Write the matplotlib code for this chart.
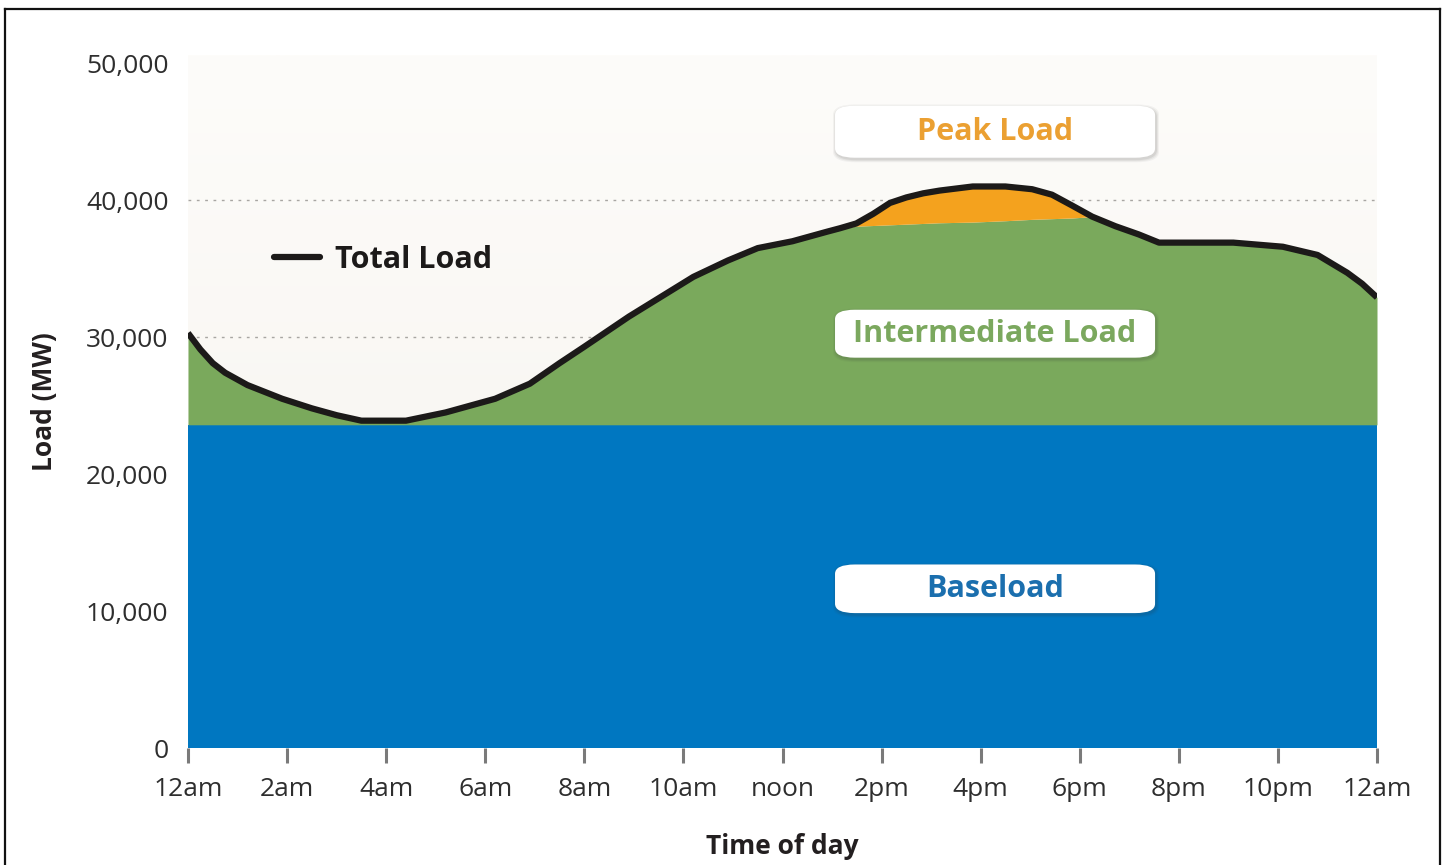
import numpy as np
import matplotlib
matplotlib.use("Agg")
import matplotlib.pyplot as plt
from matplotlib.patches import FancyBboxPatch
from matplotlib.lines import Line2D

plt.rcParams['font.family'] = ['Open Sans', 'DejaVu Sans']

# ----
# DATA
# ----
hours = [0, 0.25, 0.5, 0.75, 1.2, 1.9, 2.5, 3.0, 3.5, 4.4, 5.2, 6.2, 6.9,
         7.5, 8.0, 8.9, 10.2, 10.9, 11.5, 12.2, 12.9, 13.16, 13.49, 13.83,
         14.17, 14.5, 14.84, 15.17, 15.84, 16.5, 17.04, 17.44, 17.85, 18.25,
         18.72, 19.19, 19.6, 21.1, 22.1, 22.8, 23.4, 23.7, 24.0]
total_load = [30300, 29100, 28100, 27400, 26500, 25500, 24800, 24300, 23900,
              23900, 24500, 25500, 26600, 28100, 29300, 31500, 34400, 35600,
              36500, 37000, 37700, 37950, 38300, 39000, 39800, 40200, 40500,
              40700, 41000, 41000, 40800, 40400, 39600, 38800, 38100, 37500,
              36900, 36900, 36600, 36000, 34700, 33900, 32900]
intermediate_top = [30300, 29100, 28100, 27400, 26500, 25500, 24800, 24300,
                    23900, 23900, 24500, 25500, 26600, 28100, 29300, 31500,
                    34400, 35600, 36500, 37000, 37700, 37950, 38100, 38150,
                    38200, 38250, 38300, 38350, 38400, 38500, 38600, 38650,
                    38700, 38800, 38100, 37500, 36900, 36900, 36600, 36000,
                    34700, 33900, 32900]
baseload = 23600

tick_hours = [0, 2, 4, 6, 8, 10, 12, 14, 16, 18, 20, 22, 24]
tick_labels = ['12am', '2am', '4am', '6am', '8am', '10am', 'noon', '2pm',
               '4pm', '6pm', '8pm', '10pm', '12am']
y_ticks = [0, 10000, 20000, 30000, 40000, 50000]

# colours
c_base = '#0077c1'
c_inter = '#7aa95c'
c_peak = '#f4a21e'
c_line = '#1c1a19'

# ----
# PLOT
# ----
W, H = 1446, 865
fig = plt.figure(figsize=(W / 100, H / 100), dpi=100)
ax = fig.add_axes([188 / W, 1 - 748 / H, (1377 - 188) / W, (748 - 55) / H])
ax.set_xlim(0, 24)
ax.set_ylim(0, 50600)

# background gradient
grad = np.linspace(0, 1, 256).reshape(-1, 1)
top = np.array([253, 252, 250]) / 255
bot = np.array([246, 243, 237]) / 255
img = top * (1 - grad) + bot * grad
img = img.reshape(256, 1, 3)
ax.imshow(img, extent=[0, 24, 0, 50600], aspect='auto', origin='upper', zorder=0)

# dotted gridlines
for yv in [30000, 40000]:
    ax.axhline(yv, color='#a8a6a2', lw=1.0, ls=(0, (2, 4)), zorder=1)

h = np.array(hours)
tot = np.array(total_load)
inter = np.array(intermediate_top)

ax.fill_between(h, 0, baseload, color=c_base, lw=0, zorder=2)
ax.fill_between(h, baseload, inter, color=c_inter, lw=0, zorder=2)
ax.fill_between(h, inter, tot, where=tot > inter, interpolate=True,
                color=c_peak, lw=0, zorder=2)
ax.plot(h, tot, color=c_line, lw=4.5, solid_joinstyle='round',
        solid_capstyle='butt', zorder=3)

# legend for total load
leg = ax.legend(handles=[Line2D([], [], color=c_line, lw=4.5, solid_capstyle='round')],
                labels=['Total Load'], loc='center left',
                bbox_to_anchor=((274 - 188) / 1189, (748 - 260) / 693),
                frameon=False, borderpad=0, borderaxespad=0,
                handlelength=1.5, handletextpad=0.5,
                prop={'weight': 'bold', 'size': 22})
for t in leg.get_texts():
    t.set_color('#1c1a19')

# label boxes
boxes = [('Peak Load', 43100, 46900, '#eba032'),
         ('Intermediate Load', 28500, 32000, '#7ba85e'),
         ('Baseload', 9850, 13400, '#1b6fae')]
x0, x1 = 13.06, 19.52
for text, y0, y1, col in boxes:
    # soft shadow
    for k, a in [(3, 0.05), (2, 0.07), (1, 0.09)]:
        sh = FancyBboxPatch((x0 + 0.02 - 0.02 * k, y0 - 120 - 70 * k),
                            x1 - x0 + 0.04 * k, y1 - y0 + 140 * k,
                            boxstyle='round,pad=0,rounding_size=0.45',
                            mutation_aspect=1700, fc='#3a3a3a', alpha=a,
                            ec='none', zorder=4)
        ax.add_patch(sh)
    bx = FancyBboxPatch((x0, y0), x1 - x0, y1 - y0,
                        boxstyle='round,pad=0,rounding_size=0.4',
                        mutation_aspect=1700, fc='white', ec='none',
                        zorder=5)
    ax.add_patch(bx)
    ax.text((x0 + x1) / 2, (y0 + y1) / 2, text, ha='center', va='center',
            fontsize=22, fontweight='bold', color=col, zorder=6)

# axes styling
for s in ax.spines.values():
    s.set_visible(False)
ax.set_xticks(tick_hours)
ax.set_xticklabels(tick_labels)
ax.set_yticks(y_ticks)
ax.set_yticklabels(['{:,}'.format(v) for v in y_ticks])
ax.tick_params(axis='x', direction='out', length=11, width=2.2,
               color='#7a7a7a', labelsize=19, labelcolor='#2e2e2e', pad=10)
ax.tick_params(axis='y', length=0, labelsize=19, labelcolor='#2e2e2e', pad=14)
ax.set_xlabel('Time of day', fontsize=19, fontweight='bold', color='#231f20',
              labelpad=22)
ax.set_ylabel('Load (MW)', fontsize=19, fontweight='bold', color='#231f20',
              labelpad=20)

# outer frame
for xs, ys in [([5 / W, 5 / W], [0, 1 - 9 / H]),
               ([5 / W, 1440 / W], [1 - 9 / H, 1 - 9 / H]),
               ([1440 / W, 1440 / W], [1 - 9 / H, 0])]:
    fig.add_artist(Line2D(xs, ys, color='#111111', lw=1.6))

fig.savefig('out.png', dpi=100, facecolor='white')
